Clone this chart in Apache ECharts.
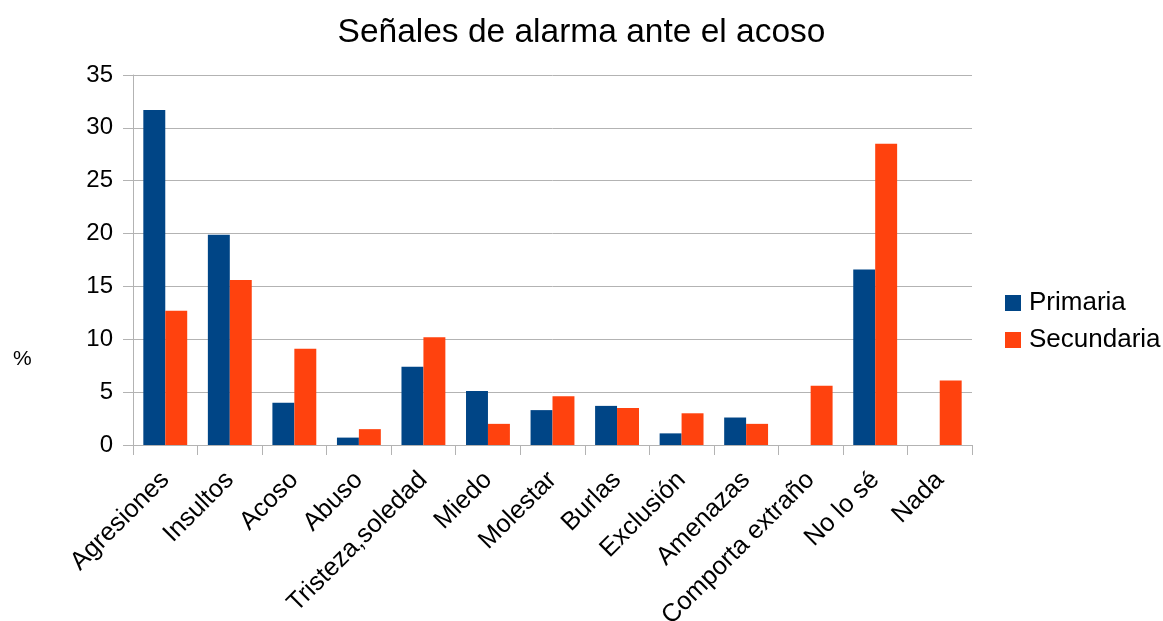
<!DOCTYPE html>
<html>
<head>
<meta charset="utf-8">
<script src="https://cdn.jsdelivr.net/npm/echarts@6/dist/echarts.min.js"></script>
<style>
  html, body { margin: 0; padding: 0; background: #ffffff; }
  #chart { width: 1163px; height: 621px; }
</style>
</head>
<body>
<div id="chart"></div>
<script>
// Warning signs of bullying, percentage of students by school level
const categories = ['Agresiones', 'Insultos', 'Acoso', 'Abuso', 'Tristeza,soledad', 'Miedo',
  'Molestar', 'Burlas', 'Exclusión', 'Amenazas', 'Comporta extraño', 'No lo sé', 'Nada'];
const primaria = [31.7, 19.9, 4.0, 0.7, 7.4, 5.1, 3.3, 3.7, 1.1, 2.6, 0, 16.6, 0];
const secundaria = [12.7, 15.6, 9.1, 1.5, 10.2, 2.0, 4.6, 3.5, 3.0, 2.0, 5.6, 28.5, 6.1];
const yTicks = [0, 5, 10, 15, 20, 25, 30, 35];

const font = '"Liberation Sans", Arial, sans-serif';
const gridColor = '#b3b3b3';

const chart = echarts.init(document.getElementById('chart'), null, { renderer: 'canvas' });
chart.setOption({
  animation: false,
  backgroundColor: '#ffffff',
  title: {
    text: 'Señales de alarma ante el acoso',
    left: 'center',
    top: 11,
    textStyle: { fontFamily: font, fontSize: 33.5, fontWeight: 'normal', color: '#000000' }
  },
  legend: {
    orient: 'vertical',
    left: 1000,
    top: 285,
    itemWidth: 16,
    itemHeight: 16,
    itemGap: 11,
    icon: 'rect',
    textStyle: { fontFamily: font, fontSize: 26, lineHeight: 26, color: '#000000', padding: [0, 0, 0, 3] },
    data: ['Primaria', 'Secundaria']
  },
  graphic: [{
    type: 'text',
    left: 13,
    top: 349,
    style: { text: '%', font: '21px ' + font, fill: '#000000' }
  }],
  grid: { left: 133, right: 191, top: 75, bottom: 176, containLabel: false, outerBoundsMode: 'none' },
  xAxis: {
    type: 'category',
    data: categories,
    axisLine: { lineStyle: { color: gridColor, width: 1 } },
    axisTick: { show: true, length: 10, alignWithLabel: false, lineStyle: { color: gridColor } },
    axisLabel: {
      interval: 0,
      rotate: 45,
      margin: 31,
      fontFamily: font,
      fontSize: 25.5,
      color: '#000000'
    }
  },
  yAxis: {
    type: 'value',
    min: yTicks[0],
    max: yTicks[yTicks.length - 1],
    interval: 5,
    axisLine: { show: true, lineStyle: { color: gridColor, width: 1 } },
    axisTick: { show: true, length: 10, lineStyle: { color: gridColor } },
    splitLine: { show: true, lineStyle: { color: gridColor, width: 1 } },
    axisLabel: { margin: 20, fontFamily: font, fontSize: 24, color: '#000000' }
  },
  series: [
    {
      name: 'Primaria',
      type: 'bar',
      data: primaria,
      itemStyle: { color: '#004586' },
      barGap: '0%',
      barCategoryGap: '32%'
    },
    {
      name: 'Secundaria',
      type: 'bar',
      data: secundaria,
      itemStyle: { color: '#ff420e' },
      barGap: '0%',
      barCategoryGap: '32%'
    }
  ]
});
</script>
</body>
</html>
